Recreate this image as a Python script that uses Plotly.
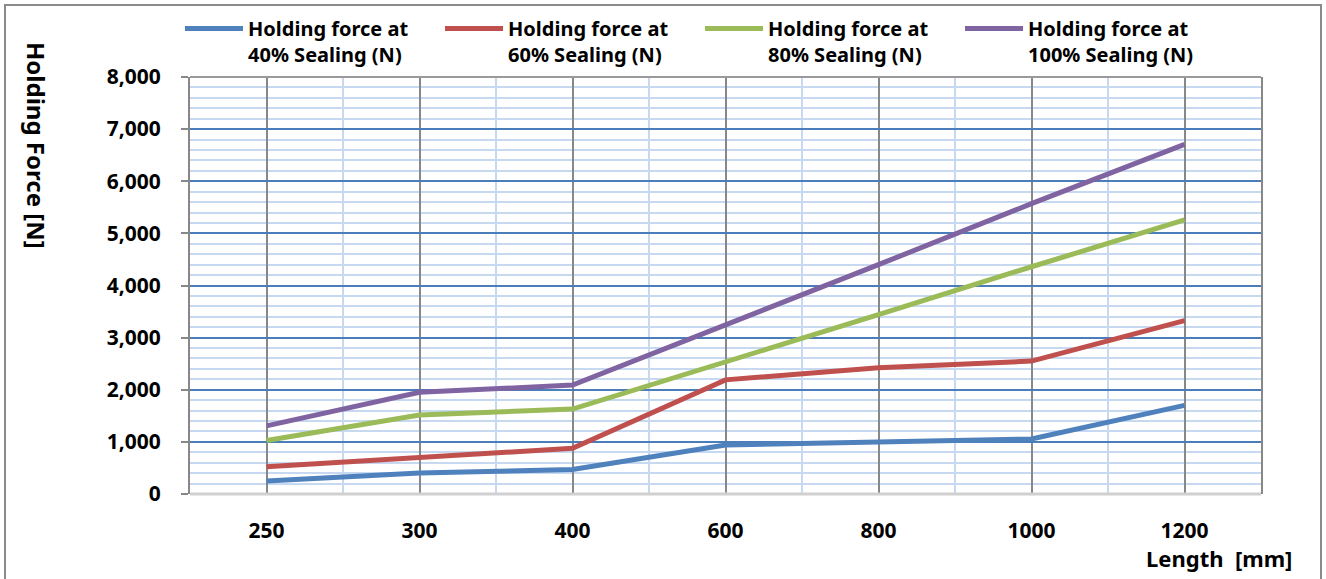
import plotly.graph_objects as go

categories = ["250", "300", "400", "600", "800", "1000", "1200"]
series_names = [
    "Holding force at<br>40% Sealing (N)",
    "Holding force at<br>60% Sealing (N)",
    "Holding force at<br>80% Sealing (N)",
    "Holding force at<br>100% Sealing (N)",
]
sealing_40 = [250, 405, 470, 940, 1000, 1055, 1700]
sealing_60 = [522, 697, 877, 2190, 2420, 2550, 3325]
sealing_80 = [1025, 1515, 1630, 2530, 3440, 4360, 5258]
sealing_100 = [1308, 1950, 2090, 3240, 4400, 5570, 6708]
colors = ["#4F81BD", "#C0504D", "#9BBB59", "#8064A2"]
y_ticks = [0, 1000, 2000, 3000, 4000, 5000, 6000, 7000, 8000]

FONT = "Noto Sans"
xpos = list(range(len(categories)))

PW, PH = 1071, 417  # plot area size in px

fig = go.Figure()
for name, vals, col in zip(series_names, [sealing_40, sealing_60, sealing_80, sealing_100], colors):
    fig.add_trace(go.Scatter(x=xpos, y=vals, mode="lines", name=name,
                             line=dict(color=col, width=5)))

fig.update_layout(
    width=1326, height=579,
    margin=dict(l=190, r=65, t=77, b=85, autoexpand=False),
    paper_bgcolor="white", plot_bgcolor="white",
    font=dict(family=FONT, size=20, color="black", weight="bold"),
    showlegend=True,
    legend=dict(orientation="h", x=-10 / PW, xanchor="left", y=1 + 3 / PH, yanchor="bottom",
                entrywidth=187, entrywidthmode="pixels", valign="top",
                bgcolor="rgba(0,0,0,0)",
                font=dict(family=FONT, size=20, color="black", weight="bold"),
                traceorder="normal", itemwidth=58),
    xaxis=dict(range=[-0.5, 6.5], tickmode="array", tickvals=xpos, ticktext=categories,
               showgrid=True, gridcolor="#888888", gridwidth=2,
               minor=dict(tickmode="array", tickvals=[i + 0.5 for i in xpos[:-1]],
                          showgrid=True, gridcolor="#C6D9F1", gridwidth=1.5),
               showline=False, ticks="", ticklabelstandoff=22, zeroline=False,
               tickfont=dict(family=FONT, size=21, weight="bold")),
    yaxis=dict(range=[0, 8000], tickmode="array", tickvals=y_ticks, tickformat=",d",
               showgrid=True, gridcolor="#4A7EBB", gridwidth=1.5,
               minor=dict(dtick=200, tick0=0, showgrid=True, gridcolor="#C6D9F1", gridwidth=1.5),
               showline=True, linecolor="#888888", linewidth=2, mirror=True,
               ticks="outside", ticklen=7, tickcolor="#888888", tickwidth=1.5,
               ticklabelstandoff=16, zeroline=False,
               tickfont=dict(family=FONT, size=21, weight="bold")),
    shapes=[
        dict(type="line", xref="paper", yref="paper", x0=0, x1=1, y0=1, y1=1,
             line=dict(color="#9A9A9A", width=2), layer="above"),
        dict(type="line", xref="paper", yref="paper", x0=0, x1=1, y0=0, y1=0,
             line=dict(color="#D0D0D0", width=3), layer="above"),
        dict(type="rect", xref="paper", yref="paper",
             x0=-185 / PW, x1=(1321 - 190) / PW, y0=-(600 - 494) / PH, y1=(494 - 5) / PH,
             line=dict(color="#8A8A8A", width=2), layer="below"),
    ],
    annotations=[
        dict(text="Holding Force [N]", xref="paper", yref="paper",
             x=-(190 - 37) / PW, y=(494 - 145) / PH, textangle=90, showarrow=False,
             font=dict(family=FONT, size=24, weight="bold"),
             xanchor="center", yanchor="middle"),
        dict(text="Length  [mm]", xref="paper", yref="paper",
             x=(1294 - 190) / PW, y=-(558 - 494) / PH, showarrow=False,
             font=dict(family=FONT, size=22, weight="bold"),
             xanchor="right", yanchor="middle"),
    ],
)

fig.write_html("out.html", config={"displayModeBar": False},
               post_script="document.body.style.margin='0';")
